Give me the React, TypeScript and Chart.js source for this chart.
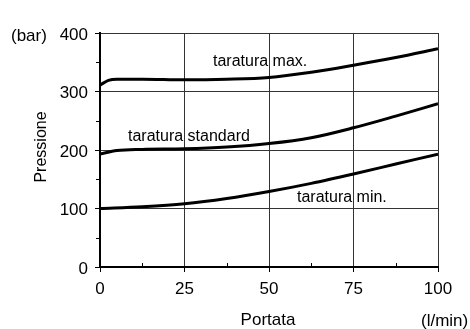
import React, { useEffect, useRef } from "react";
import { Chart, registerables } from "chart.js";

Chart.register(...registerables);

const FONT = '"Liberation Sans", Arial, Helvetica, sans-serif';

const flowMax = [0, 2.5, 5, 12.5, 25, 37.5, 50, 62.5, 75, 87.5, 100];
const pressMax = [311, 319, 321, 321, 320, 321, 324, 333, 345, 358, 373];

const flowStd = [0, 5, 12.5, 25, 37.5, 50, 62.5, 75, 87.5, 100];
const pressStd = [193, 199, 201, 202, 205, 211, 221, 238, 258, 279];

const flowMin = [0, 12.5, 25, 37.5, 50, 62.5, 75, 87.5, 100];
const pressMin = [100, 103, 108, 117, 129, 143, 159, 176, 193];

const xTicks = [0, 25, 50, 75, 100];
const yTicks = [0, 100, 200, 300, 400];
const xMinor = [12.5, 37.5, 62.5, 87.5];
const yMinor = [50, 150, 250, 350];

const curveLabels = ["taratura max.", "taratura standard", "taratura min."];
const xTitle = "Portata";
const xUnit = "(l/min)";
const yTitle = "Pressione";
const yUnit = "(bar)";

const toPts = (xs: number[], ys: number[]) => xs.map((x, i) => ({ x, y: ys[i] }));

export default function App() {
  const ref = useRef<HTMLCanvasElement | null>(null);

  useEffect(() => {
    if (!ref.current) return;
    const ds = (xs: number[], ys: number[]) => ({
      data: toPts(xs, ys),
      borderColor: "#000",
      borderWidth: 3,
      pointRadius: 0,
      fill: false,
      cubicInterpolationMode: "monotone" as const,
    });

    const annot = {
      id: "annot",
      afterDraw(chart: any) {
        const { ctx, chartArea, scales } = chart;
        const xs = scales.x;
        const ys = scales.y;
        ctx.save();
        ctx.strokeStyle = "#000";
        ctx.lineWidth = 1;
        yMinor.forEach((v) => {
          const py = Math.round(ys.getPixelForValue(v)) + 0.5;
          ctx.beginPath();
          ctx.moveTo(chartArea.left - 4, py);
          ctx.lineTo(chartArea.left, py);
          ctx.stroke();
        });
        xMinor.forEach((v) => {
          const px = Math.round(xs.getPixelForValue(v)) + 0.5;
          ctx.beginPath();
          ctx.moveTo(px, chartArea.bottom - 4);
          ctx.lineTo(px, chartArea.bottom + 1);
          ctx.stroke();
        });
        ctx.fillStyle = "#000";
        ctx.font = `16px ${FONT}`;
        ctx.textBaseline = "alphabetic";
        ctx.textAlign = "left";
        ctx.fillText(curveLabels[0], 213, 66);
        ctx.fillText(curveLabels[1], 128, 141);
        ctx.fillText(curveLabels[2], 297, 202);
        ctx.font = `17px ${FONT}`;
        ctx.textAlign = "center";
        ctx.fillText(xTitle, 268, 325);
        ctx.textAlign = "left";
        ctx.fillText(xUnit, 421, 326);
        ctx.textBaseline = "middle";
        ctx.fillText(yUnit, 11, 36);
        ctx.font = `16px ${FONT}`;
        ctx.save();
        ctx.translate(42, 147);
        ctx.rotate(-Math.PI / 2);
        ctx.textAlign = "center";
        ctx.textBaseline = "middle";
        ctx.fillText(yTitle, 0, 0);
        ctx.restore();
        ctx.restore();
      },
    };

    const chart = new Chart(ref.current, {
      type: "line",
      data: {
        datasets: [ds(flowMax, pressMax), ds(flowStd, pressStd), ds(flowMin, pressMin)],
      },
      options: {
        responsive: false,
        animation: false,
        devicePixelRatio: 1,
        layout: { padding: { top: 33, right: 32, left: 0, bottom: 0 } },
        plugins: { legend: { display: false }, tooltip: { enabled: false }, title: { display: false } },
        scales: {
          x: {
            type: "linear",
            min: 0,
            max: 100,
            afterFit: (s: any) => {
              s.height = 62;
            },
            afterBuildTicks: (s: any) => {
              s.ticks = xTicks.map((v) => ({ value: v }));
            },
            ticks: { color: "#000", font: { size: 17, family: FONT }, padding: 7, maxRotation: 0 },
            grid: { color: "#333", lineWidth: 1, tickLength: 5, drawTicks: true, tickColor: "#000" },
            border: { display: true, color: "#000", width: 2 },
          },
          y: {
            type: "linear",
            min: 0,
            max: 400,
            afterFit: (s: any) => {
              s.width = 100;
            },
            afterBuildTicks: (s: any) => {
              s.ticks = yTicks.map((v) => ({ value: v }));
            },
            ticks: { color: "#000", font: { size: 17, family: FONT }, padding: 7, labelOffset: 2 },
            grid: { color: "#333", lineWidth: 1, tickLength: 5, drawTicks: true, tickColor: "#000" },
            border: { display: true, color: "#000", width: 2 },
          },
        },
      },
      plugins: [annot],
    } as any);
    return () => chart.destroy();
  }, []);

  return (
    <div style={{ position: "absolute", left: 0, top: 0, width: 470, height: 329, background: "#fff" }}>
      <canvas ref={ref} width={470} height={329} style={{ display: "block" }} />
    </div>
  );
}
